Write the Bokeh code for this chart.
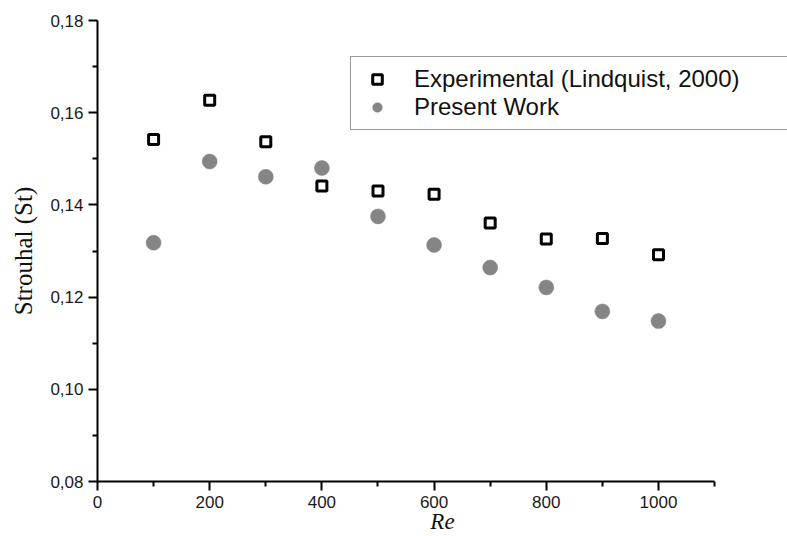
from bokeh.plotting import figure
from bokeh.models import (Range1d, FixedTicker, CustomJSTickFormatter, Legend, LegendItem,
                          ColumnDataSource)
from bokeh.embed import file_html
from bokeh.resources import INLINE

# ---- data ----
re_values = [100, 200, 300, 400, 500, 600, 700, 800, 900, 1000]
st_experimental = [0.1542, 0.1627, 0.1537, 0.1441, 0.1430, 0.1423, 0.1361, 0.1326, 0.1327, 0.1292]
st_present = [0.1318, 0.1494, 0.1461, 0.1480, 0.1375, 0.1313, 0.1264, 0.1221, 0.1169, 0.1148]

x_major = [0, 200, 400, 600, 800, 1000]
x_minor = [100, 300, 500, 700, 900, 1100]
y_major = [0.08, 0.10, 0.12, 0.14, 0.16, 0.18]
y_minor = [0.09, 0.11, 0.13, 0.15, 0.17]

label_exp = "Experimental (Lindquist, 2000)"
label_present = "Present Work"
x_title = "Re"
y_title = "Strouhal (St)"

W, H = 787, 536
p = figure(width=W, height=H, output_backend="svg", toolbar_location=None,
           x_range=Range1d(0, 1230), y_range=Range1d(0.08, 0.18),
           min_border_left=97, min_border_right=0, min_border_top=20, min_border_bottom=55)
p.outline_line_color = None
p.xgrid.visible = False
p.ygrid.visible = False
p.background_fill_color = "white"
p.border_fill_color = "white"

src = ColumnDataSource(dict(re=re_values, exp=st_experimental, pres=st_present))

r_exp = p.scatter("re", "exp", source=src, marker="square", size=10,
                  fill_color="white", line_color="black", line_width=3)
r_pres = p.scatter("re", "pres", source=src, marker="circle", size=15,
                   fill_color="#858585", line_color="#858585", line_width=0.5)

fmt = CustomJSTickFormatter(code="return tick.toFixed(2).replace('.', ',');")

for ax in (p.xaxis[0], p.yaxis[0]):
    ax.axis_line_width = 2
    ax.axis_line_color = "black"
    ax.major_tick_line_width = 2
    ax.minor_tick_line_width = 2
    ax.major_tick_line_color = "black"
    ax.minor_tick_line_color = "black"
    ax.major_tick_in = 0
    ax.major_tick_out = 9
    ax.minor_tick_in = 0
    ax.minor_tick_out = 5
    ax.major_label_text_font = "Liberation Sans"
    ax.major_label_text_font_size = "17px"
    ax.major_label_text_color = "#1a1a1a"
    ax.axis_label_text_font = "Liberation Serif"
    ax.axis_label_text_color = "#111111"

p.xaxis[0].ticker = FixedTicker(ticks=x_major, minor_ticks=x_minor)
p.xaxis[0].bounds = (0, 1100)
p.xaxis[0].major_label_standoff = 5
p.xaxis[0].axis_label = x_title
p.xaxis[0].axis_label_text_font_style = "italic"
p.xaxis[0].axis_label_text_font_size = "23px"
p.xaxis[0].axis_label_text_line_height = 0.7
p.xaxis[0].axis_label_standoff = -2

p.yaxis[0].ticker = FixedTicker(ticks=y_major, minor_ticks=y_minor)
p.yaxis[0].bounds = (0.08, 0.18)
p.yaxis[0].formatter = fmt
p.yaxis[0].major_label_standoff = 5
p.yaxis[0].axis_label = y_title
p.yaxis[0].axis_label_text_font_style = "normal"
p.yaxis[0].axis_label_text_font_size = "25px"
p.yaxis[0].axis_label_standoff = 10

legend = Legend(items=[LegendItem(label=label_exp, renderers=[r_exp]),
                       LegendItem(label=label_present, renderers=[r_pres])],
                location=(253, 351), orientation="vertical",
                padding=8, spacing=0, margin=0,
                glyph_width=36, glyph_height=24, label_standoff=19,
                label_width=367, label_height=28,
                label_text_font="Liberation Sans", label_text_font_size="24px",
                label_text_color="#111111",
                border_line_color="#333333", border_line_width=1.5,
                background_fill_color="white", background_fill_alpha=1.0)
p.add_layout(legend)

open("out.html", "w").write(file_html(p, INLINE))
